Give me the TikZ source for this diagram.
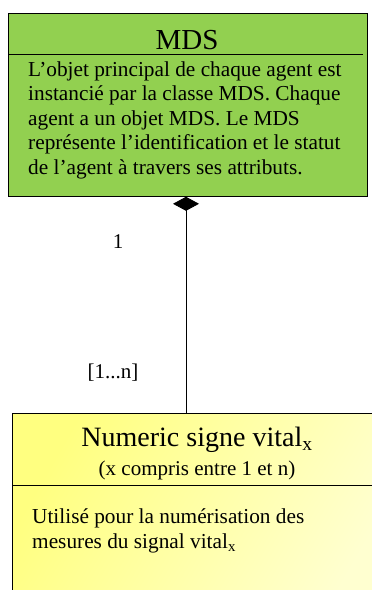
\documentclass[tikz,border=0pt]{standalone}
\usepackage{fontspec}
\setmainfont{Liberation Serif}
\usetikzlibrary{arrows.meta,positioning}
\definecolor{mdsgreen}{HTML}{92D050}
\definecolor{vitaldark}{HTML}{FFFF80}
\definecolor{vitallight}{HTML}{FFFFD0}
\tikzset{
  classbox/.style={draw, thick, rectangle, inner sep=0pt},
  bodytext/.style={align=left, inner sep=0pt, font=\fontsize{21.3}{24.5}\selectfont},
  multtext/.style={inner sep=0pt, font=\fontsize{21}{24}\selectfont},
}
\begin{document}
\begin{tikzpicture}[x=1pt,y=-1pt]
\useasboundingbox (0,0) rectangle (372,590);

\node[classbox, fill=mdsgreen, minimum width=359pt, minimum height=183pt, anchor=north west] (mds) at (8,13) {};
\node (mdstitle) at (187,40) {\fontsize{29}{32}\selectfont MDS};
\draw (8,54)--(363,54);
\node[bodytext, anchor=west] (mdsbody) at (28,120)
{L'objet principal de chaque agent est\\
instancié par la classe MDS. Chaque\\
agent a un objet MDS. Le MDS\\
représente l'identification et le statut\\
de l'agent à travers ses attributs.};

\node[classbox, left color=vitaldark, right color=vitallight, shading angle=60,
      minimum width=380pt, minimum height=200pt, anchor=north west] (vital) at (12,413) {};
\node (vitaltitle) at (197,440) {\fontsize{28}{32}\selectfont Numeric signe vital\textsubscript{x}};
\node[multtext] (vitalsub) at (197,470) {(x compris entre 1 et n)};
\draw (12,485)--(380,485);
\node[bodytext, anchor=west] (vitalbody) at (32,531)
{Utilisé pour la numérisation des\\
mesures du signal vital\textsubscript{x}};

\draw[thick, -{Diamond[length=14pt, width=26pt]}] (vital.north -| 186,0) -- (mds.south -| 186,0);
\node[multtext] (multone) at (118,242) {1};
\node[multtext] (multn) at (113,373) {[1...n]};

\end{tikzpicture}
\end{document}
